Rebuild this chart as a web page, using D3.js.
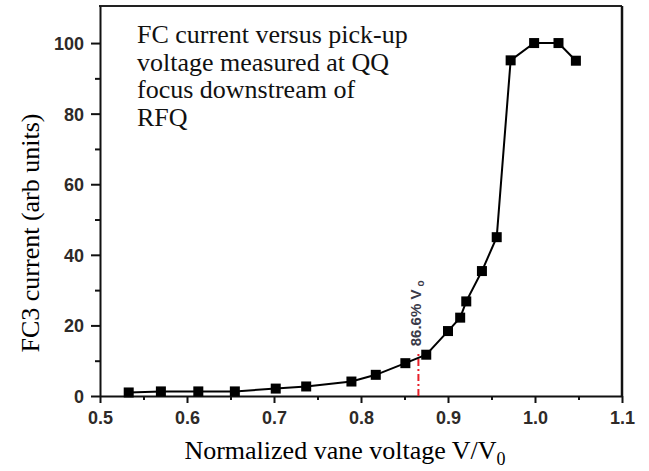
<!DOCTYPE html>
<html>
<head>
<meta charset="utf-8">
<script src="https://cdn.jsdelivr.net/npm/d3@7"></script>
<style>
  body { margin: 0; background: #fff; }
  svg { display: block; }
</style>
</head>
<body>
<div id="chart"></div>
<script>
// normalized vane voltage V/V0
var voltage = [0.533, 0.570, 0.613, 0.655, 0.702, 0.737, 0.789, 0.817, 0.851, 0.875,
               0.900, 0.914, 0.921, 0.939, 0.956, 0.972, 0.999, 1.027, 1.047];
// FC3 current (arb units)
var current = [1.0, 1.3, 1.3, 1.3, 2.1, 2.7, 4.1, 6.0, 9.3, 11.7,
               18.4, 22.2, 26.8, 35.4, 45.0, 95.1, 100, 100, 95];
var xTicks = [0.5, 0.6, 0.7, 0.8, 0.9, 1.0, 1.1];
var xTickLabels = ["0.5", "0.6", "0.7", "0.8", "0.9", "1.0", "1.1"];
var xMinor = [0.55, 0.65, 0.75, 0.85, 0.95, 1.05];
var yTicks = [0, 20, 40, 60, 80, 100];
var yMinor = [10, 30, 50, 70, 90];
var marker = {x: 0.866, y: 12.4, label: "86.6% V"};
var note = ["FC current versus pick-up", "voltage measured at QQ", "focus downstream of", "RFQ"];

var width = 649, height = 471;
var plot = {left: 100, right: 622, top: 6, bottom: 396};

var svg = d3.select("#chart").append("svg")
    .attr("width", width)
    .attr("height", height);

var x = d3.scaleLinear().domain([0.5, 1.1]).range([plot.left, plot.right]);
var y = d3.scaleLinear().domain([0, 110.5]).range([plot.bottom, plot.top]);

var tickFont = "'Liberation Sans', Arial, sans-serif";
var serif = "'Liberation Serif', 'Times New Roman', serif";

// frame top / right
svg.append("line")
    .attr("x1", plot.left - 1).attr("x2", plot.right).attr("y1", plot.top).attr("y2", plot.top)
    .attr("stroke", "#222").attr("stroke-width", 2);
svg.append("line")
    .attr("x1", plot.right).attr("x2", plot.right).attr("y1", plot.top).attr("y2", plot.bottom)
    .attr("stroke", "#111").attr("stroke-width", 2.5);

// X axis
var xAxis = svg.append("g")
    .attr("transform", "translate(0," + plot.bottom + ")")
    .call(d3.axisBottom(x).tickValues(xTicks).tickSize(7).tickSizeOuter(0)
        .tickFormat(function(d, i) { return xTickLabels[i]; }));
svg.append("g")
    .attr("transform", "translate(0," + plot.bottom + ")")
    .call(d3.axisBottom(x).tickValues(xMinor).tickSize(4).tickSizeOuter(0).tickFormat(""))
    .select(".domain").remove();

// Y axis
var yAxis = svg.append("g")
    .attr("transform", "translate(" + plot.left + ",0)")
    .call(d3.axisLeft(y).tickValues(yTicks).tickSize(9).tickSizeOuter(0));
svg.append("g")
    .attr("transform", "translate(" + plot.left + ",0)")
    .call(d3.axisLeft(y).tickValues(yMinor).tickSize(5).tickSizeOuter(0).tickFormat(""))
    .select(".domain").remove();

svg.selectAll(".domain").attr("stroke", "#111").attr("stroke-width", 2);
svg.selectAll(".tick line").attr("stroke", "#111").attr("stroke-width", 2);
svg.selectAll(".tick text")
    .style("font-family", tickFont)
    .style("font-weight", "bold")
    .style("font-size", "18px")
    .attr("fill", "#2e2a28");
xAxis.selectAll(".tick text").attr("y", 15).attr("dy", "0.71em");
yAxis.selectAll(".tick text").attr("x", -16).attr("dy", "0.36em");

// axis titles
svg.append("text")
    .attr("transform", "translate(39," + ((plot.top + plot.bottom) / 2 + 32) + ") rotate(-90)")
    .attr("text-anchor", "middle")
    .style("font-family", serif)
    .style("font-size", "26px")
    .text("FC3 current (arb units)");

var xt = svg.append("text")
    .attr("x", 345).attr("y", 459)
    .attr("text-anchor", "middle")
    .style("font-family", serif)
    .style("font-size", "26px")
    .text("Normalized vane voltage V/V");
xt.append("tspan").attr("dy", 6).style("font-size", "18px").text("0");

// annotation
svg.append("g").selectAll("text")
    .data(note)
    .enter().append("text")
    .attr("x", 137)
    .attr("y", function(d, i) { return 43 + i * 27.5; })
    .style("font-family", serif)
    .style("font-size", "26px")
    .attr("fill", "#111")
    .text(function(d) { return d; });

// red dash-dot marker line
svg.append("line")
    .attr("x1", x(marker.x)).attr("x2", x(marker.x))
    .attr("y1", y(0)).attr("y2", y(marker.y))
    .attr("stroke", "#e8202a").attr("stroke-width", 2)
    .attr("stroke-dasharray", "7,3,2,3");

var mt = svg.append("text")
    .attr("transform", "translate(" + (x(marker.x) + 3) + "," + (y(marker.y) - 6) + ") rotate(-90)")
    .style("font-family", tickFont)
    .style("font-weight", "bold")
    .style("font-size", "15px")
    .attr("fill", "#3a3a48")
    .text(marker.label);
mt.append("tspan").attr("dx", 3).attr("dy", 3).style("font-size", "10px").text("o");

// data line + square markers
var pts = voltage.map(function(v, i) { return [v, current[i]]; });
svg.append("path")
    .datum(pts)
    .attr("fill", "none")
    .attr("stroke", "#000")
    .attr("stroke-width", 2)
    .attr("d", d3.line().x(function(d) { return x(d[0]); }).y(function(d) { return y(d[1]); }));

svg.selectAll("rect.pt")
    .data(pts)
    .enter().append("rect")
    .attr("class", "pt")
    .attr("x", function(d) { return x(d[0]) - 5; })
    .attr("y", function(d) { return y(d[1]) - 5; })
    .attr("width", 10)
    .attr("height", 10)
    .attr("fill", "#000");
</script>
</body>
</html>
